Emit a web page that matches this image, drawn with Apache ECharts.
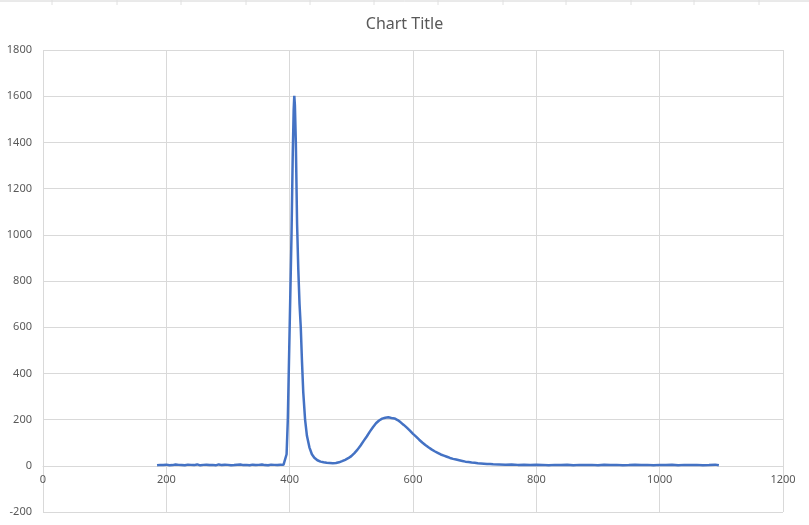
<!DOCTYPE html>
<html>
<head>
<meta charset="utf-8">
<script src="https://cdn.jsdelivr.net/npm/echarts@6/dist/echarts.min.js"></script>
<style>html,body{margin:0;padding:0;background:#fff;}#c{width:809px;height:525px;}</style>
</head>
<body>
<div id="c"></div>
<script>
// Baseline region (185..390, step 5)
const baseX = [185,190,195,200,205,210,215,220,225,230,235,240,245,250,255,260,265,270,275,280,285,290,295,300,305,310,315,320,325,330,335,340,345,350,355,360,365,370,375,380,385,390];
const baseY = [2,4,3,5,2,3,6,4,3,2,5,4,3,6,2,4,5,3,4,2,6,3,5,4,2,3,5,6,3,4,2,5,3,4,6,3,2,5,4,3,5,4];
// Sharp peak region
const peakX = [393,395,397,400,403,405,406.5,407.5,408.5,410,412,414,416,418,420,422,425,428,432,436,440,445,450,455,460,465,470,475];
const peakY = [8,50,200,600,1000,1350,1540,1602,1560,1400,1050,850,700,600,450,320,200,130,80,50,35,24,18,15,13,12,11,12];
// Broad hump region
const humpX = [480,485,490,495,500,505,510,515,520,525,530,535,540,545,550,555,560,565,570,575,580,585,590,595,600,605,610,615,620,625,630,635,640,645,650,655,660,665,670,675,680,685,690,695,700,705,710,715,720,725,730];
const humpY = [15,20,26,33,42,55,70,88,108,127,148,167,184,196,204,208,210,207,205,198,188,177,165,152,138,126,113,101,90,80,71,63,56,49,44,39,34,30,27,24,21,18,16,14,13,11,10,9,8,8,7];
// Tail region (740..1096)
const tailX = [740,750,760,770,780,790,800,810,820,830,840,850,860,870,880,890,900,910,920,930,940,950,960,970,980,990,1000,1010,1020,1030,1040,1050,1060,1070,1080,1090,1096];
const tailY = [6,5,6,4,5,3,5,4,2,4,3,5,2,4,3,4,2,5,3,4,2,3,5,3,4,2,4,3,5,2,4,3,4,2,3,5,2];

const xs = baseX.concat(peakX, humpX, tailX);
const ys = baseY.concat(peakY, humpY, tailY);
const seriesData = xs.map((x, i) => [x, ys[i]]);

const xMin = 0, xMax = 1200, xStep = 200;
const yMin = -200, yMax = 1800, yStep = 200;
const titleText = 'Chart Title';

const font = 'Noto Sans, Liberation Sans, sans-serif';
const chart = echarts.init(document.getElementById('c'), null, {renderer: 'canvas'});

const gridTop = 50, gridBottom = 13;
const plotH = 525 - gridTop - gridBottom;
// distance from bottom of plot up to the y=0 line, so x labels sit under zero like the reference
const zeroOffset = plotH * (0 - yMin) / (yMax - yMin);

// decorative spreadsheet header line at top
const topTicks = [52,117,181,246,310,374,438,503,566,631,694,759];
const graphics = [{type:'line', shape:{x1:0,y1:1,x2:809,y2:1}, style:{stroke:'#d4d4d4', lineWidth:1}, silent:true}];
topTicks.forEach(t => graphics.push({type:'line', shape:{x1:t,y1:0,x2:t,y2:5}, style:{stroke:'#e0e0e0', lineWidth:1}, silent:true}));

chart.setOption({
  animation: false,
  backgroundColor: '#fff',
  graphic: graphics,
  title: {
    text: titleText,
    left: 'center',
    top: 11,
    textStyle: {fontFamily: font, fontSize: 16, fontWeight: 'normal', color: '#595959'}
  },
  grid: {left: 43, right: 26, top: gridTop, bottom: gridBottom, containLabel: false, outerBoundsMode: 'none'},
  xAxis: {
    type: 'value', min: xMin, max: xMax, interval: xStep,
    offset: -zeroOffset,
    axisLine: {show: true, onZero: false, lineStyle: {color: '#d9d9d9', width: 1}},
    axisTick: {show: false},
    axisLabel: {fontFamily: font, fontSize: 11, color: '#595959', margin: 9, formatter: v => String(v)},
    splitLine: {show: true, lineStyle: {color: '#d9d9d9', width: 1}}
  },
  yAxis: {
    type: 'value', min: yMin, max: yMax, interval: yStep,
    axisLine: {show: false},
    axisTick: {show: false},
    axisLabel: {fontFamily: font, fontSize: 11, color: '#595959', margin: 11, formatter: v => String(v)},
    splitLine: {show: true, lineStyle: {color: '#d9d9d9', width: 1}}
  },
  series: [{
    type: 'line',
    data: seriesData,
    showSymbol: false,
    symbol: 'none',
    lineStyle: {color: '#4472C4', width: 2.5},
    itemStyle: {color: '#4472C4'}
  }]
});
</script>
</body>
</html>
